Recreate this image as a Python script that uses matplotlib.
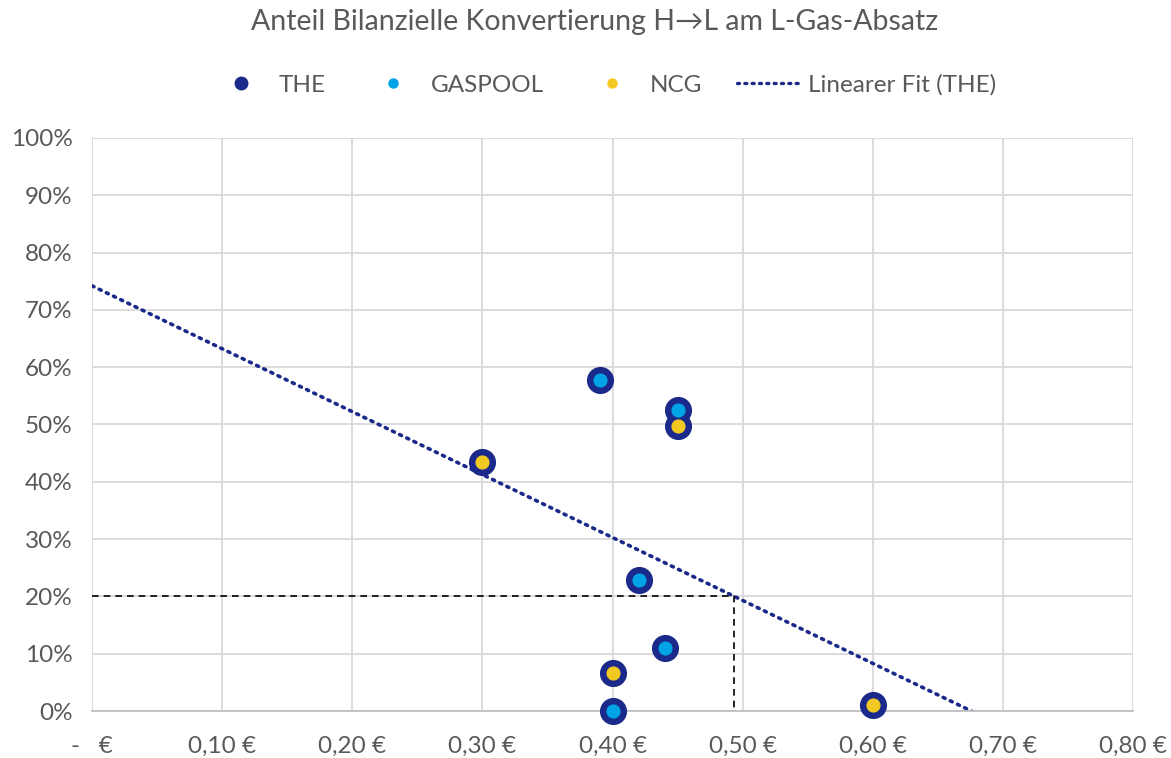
import matplotlib.pyplot as plt
from matplotlib.lines import Line2D
import numpy as np

# Preis (€) und Anteil Konvertierung
gaspool_x = [0.39, 0.45, 0.42, 0.44, 0.40]
gaspool_y = [0.578, 0.526, 0.228, 0.110, 0.000]
ncg_x = [0.45, 0.30, 0.40, 0.60]
ncg_y = [0.498, 0.434, 0.066, 0.010]
the_x = gaspool_x + ncg_x
the_y = gaspool_y + ncg_y
ziel_anteil = 0.20

xticks = [0, 0.1, 0.2, 0.3, 0.4, 0.5, 0.6, 0.7, 0.8]
xlabels = ['-   €', '0,10 €', '0,20 €', '0,30 €', '0,40 €', '0,50 €', '0,60 €', '0,70 €', '0,80 €']
yticks = np.arange(0, 1.01, 0.1)

navy = '#1B2A8A'
hellblau = '#00A3E6'
gelb = '#F2C922'
grau = '#595959'

plt.rcParams['font.family'] = ['Lato', 'DejaVu Sans']

fig = plt.figure(figsize=(11.71, 7.58), dpi=100)
ax = fig.add_axes([0.0786, 0.062, 0.889, 0.756])

# linearer Fit über alle THE-Punkte
m, b = np.polyfit(the_x, the_y, 1)
fx = np.linspace(0, 0.8, 50)
ax.plot(fx, m * fx + b, color=navy, lw=2.6, linestyle=(0, (0.6, 1.6)),
        dash_capstyle='round', zorder=2)

# Hilfslinie bei 20%
xs = (ziel_anteil - b) / m
ax.plot([0, xs, xs], [ziel_anteil, ziel_anteil, 0], color='black', lw=1.2,
        linestyle=(0, (4, 3)), zorder=2)

ax.plot(the_x, the_y, 'o', color=navy, markersize=18.5, zorder=3, clip_on=False)
ax.plot(gaspool_x, gaspool_y, 'o', color=hellblau, markersize=9.2, zorder=4, clip_on=False)
ax.plot(ncg_x, ncg_y, 'o', color=gelb, markersize=9.2, zorder=4, clip_on=False)

ax.set_xlim(0, 0.8)
ax.set_ylim(0, 1)
ax.set_xticks(xticks)
ax.set_xticklabels(xlabels)
ax.set_yticks(yticks)
ax.set_yticklabels(['%d%%' % round(v * 100) for v in yticks])
ax.tick_params(length=0, labelsize=17.5, colors=grau)
ax.tick_params(axis='x', pad=18)
ax.tick_params(axis='y', pad=14)
ax.grid(color='#D9D9D9', lw=1.3)
ax.set_axisbelow(True)
for s in ['top', 'right', 'left']:
    ax.spines[s].set_visible(False)
ax.spines['bottom'].set_color('#BFBFBF')
ax.spines['bottom'].set_linewidth(1.3)

fig.text(0.508, 0.971, 'Anteil Bilanzielle Konvertierung H→L am L-Gas-Absatz',
         ha='center', va='center', fontsize=20.5, color=grau)

handles = [
    Line2D([], [], ls='none', marker='o', color=navy, markersize=9),
    Line2D([], [], ls='none', marker='o', color=hellblau, markersize=6.5),
    Line2D([], [], ls='none', marker='o', color=gelb, markersize=6.5),
    Line2D([], [], color=navy, lw=2.4, linestyle=(0, (0.6, 1.6)), dash_capstyle='round'),
]
fig.legend(handles, ['THE', 'GASPOOL', 'NCG', 'Linearer Fit (THE)'], loc='center',
           bbox_to_anchor=(0.514, 0.888), ncol=4, frameon=False, fontsize=17.5,
           labelcolor=grau, columnspacing=1.45, handlelength=2.7, handletextpad=0.2)

fig.savefig('out.png', dpi=100)
